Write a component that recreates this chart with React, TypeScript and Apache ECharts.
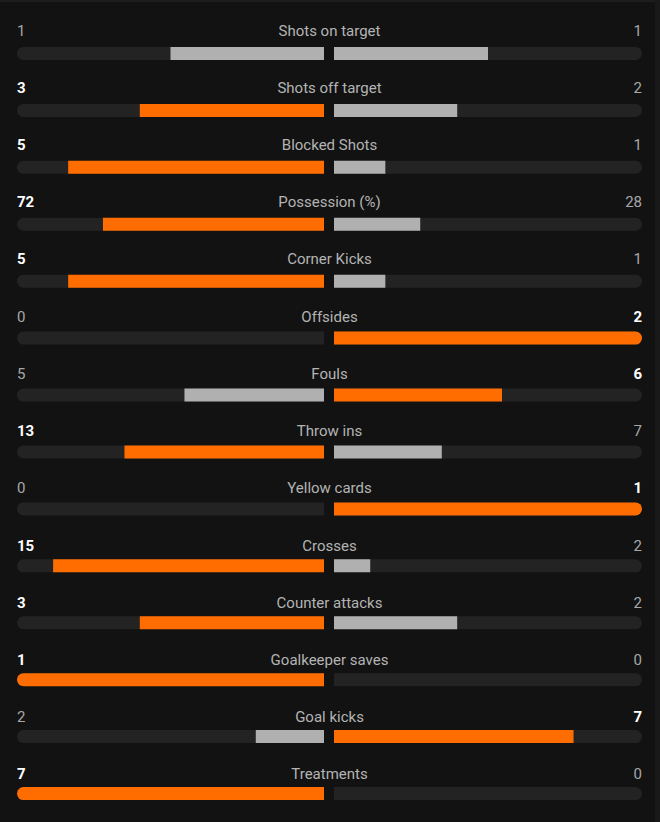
import React, { useEffect, useRef } from "react";
import * as echarts from "echarts";

const categories = [
  "Shots on target",
  "Shots off target",
  "Blocked Shots",
  "Possession (%)",
  "Corner Kicks",
  "Offsides",
  "Fouls",
  "Throw ins",
  "Yellow cards",
  "Crosses",
  "Counter attacks",
  "Goalkeeper saves",
  "Goal kicks",
  "Treatments",
];
const homeValues = [1, 3, 5, 72, 5, 0, 5, 13, 0, 15, 3, 1, 2, 7];
const awayValues = [1, 2, 1, 28, 1, 2, 6, 7, 1, 2, 2, 0, 7, 0];

const ORANGE = "#ff6d00";
const GREY = "#b0b0b0";
const TRACK = "#232323";
const FONT = "Roboto, 'Noto Sans', sans-serif";

export default function App() {
  const ref = useRef<HTMLDivElement>(null);
  useEffect(() => {
    if (!ref.current) return;
    const chart = echarts.init(ref.current, null, { renderer: "svg" });
    const n = categories.length;
    const top = 25;
    const band = 57.22;
    const height = band * n;
    const barW = 13;
    const LEFT_R = [6.5, 0, 0, 6.5];
    const RIGHT_R = [0, 6.5, 6.5, 0];

    const share = (a: number, b: number) => (a + b === 0 ? 0 : a / (a + b));

    const leftData = homeValues.map((h, i) => {
      const a = awayValues[i];
      const v = share(h, a);
      return {
        value: v,
        itemStyle: {
          color: h > a ? ORANGE : GREY,
          borderRadius: v >= 1 ? LEFT_R : 0,
        },
      };
    });
    const rightData = awayValues.map((a, i) => {
      const h = homeValues[i];
      const v = share(a, h);
      return {
        value: v,
        itemStyle: {
          color: a > h ? ORANGE : GREY,
          borderRadius: v >= 1 ? RIGHT_R : 0,
        },
      };
    });

    const labelFormatter = (_value: string, index: number) => {
      const h = homeValues[index];
      const a = awayValues[index];
      const ls = h > a ? "lb" : "ln";
      const rs = a > h ? "rb" : "rn";
      return `{${ls}|${h}}{c|${categories[index]}}{${rs}|${a}}`;
    };

    const option: any = {
      animation: false,
      backgroundColor: "#121212",
      graphic: [
        { type: "rect", shape: { x: 0, y: 0, width: 660, height: 2 }, style: { fill: "#1d1d1d" }, silent: true },
        { type: "rect", shape: { x: 655, y: 0, width: 5, height: 822 }, style: { fill: "#191919" }, silent: true },
      ],
      grid: [
        { left: 17, width: 307, top, height },
        { left: 334, width: 308, top, height },
        { left: 17, width: 625, top: top - 23, height },
      ],
      xAxis: [
        { gridIndex: 0, type: "value", min: 0, max: 1, inverse: true, show: false },
        { gridIndex: 1, type: "value", min: 0, max: 1, show: false },
        { gridIndex: 2, type: "value", min: 0, max: 1, show: false },
      ],
      yAxis: [
        { gridIndex: 0, type: "category", data: categories, inverse: true, show: false },
        { gridIndex: 1, type: "category", data: categories, inverse: true, show: false },
        {
          gridIndex: 2,
          type: "category",
          data: categories,
          inverse: true,
          axisLine: { show: false },
          axisTick: { show: false },
          splitLine: { show: false },
          axisLabel: {
            inside: true,
            align: "left",
            margin: 0,
            formatter: labelFormatter,
            rich: {
              ln: { width: 100, align: "left", color: "#a8a8a8", fontSize: 15, fontFamily: FONT },
              lb: { width: 100, align: "left", color: "#ffffff", fontSize: 15, fontWeight: "bold", fontFamily: FONT },
              c: { width: 425, align: "center", color: "#b4b4b4", fontSize: 15, fontFamily: FONT },
              rn: { width: 100, align: "right", color: "#a8a8a8", fontSize: 15, fontFamily: FONT },
              rb: { width: 100, align: "right", color: "#ffffff", fontSize: 15, fontWeight: "bold", fontFamily: FONT },
            },
          },
        },
      ],
      series: [
        {
          type: "bar",
          xAxisIndex: 0,
          yAxisIndex: 0,
          barWidth: barW,
          data: categories.map(() => 1),
          itemStyle: { color: TRACK, borderRadius: LEFT_R },
          silent: true,
        },
        {
          type: "bar",
          xAxisIndex: 0,
          yAxisIndex: 0,
          barWidth: barW,
          barGap: "-100%",
          data: leftData,
          silent: true,
        },
        {
          type: "bar",
          xAxisIndex: 1,
          yAxisIndex: 1,
          barWidth: barW,
          data: categories.map(() => 1),
          itemStyle: { color: TRACK, borderRadius: RIGHT_R },
          silent: true,
        },
        {
          type: "bar",
          xAxisIndex: 1,
          yAxisIndex: 1,
          barWidth: barW,
          barGap: "-100%",
          data: rightData,
          silent: true,
        },
        {
          type: "bar",
          xAxisIndex: 2,
          yAxisIndex: 2,
          data: [],
          silent: true,
        },
      ],
    };
    chart.setOption(option);
    return () => chart.dispose();
  }, []);
  return (
    <div
      ref={ref}
      style={{ position: "fixed", left: 0, top: 0, width: 660, height: 822 }}
    />
  );
}
